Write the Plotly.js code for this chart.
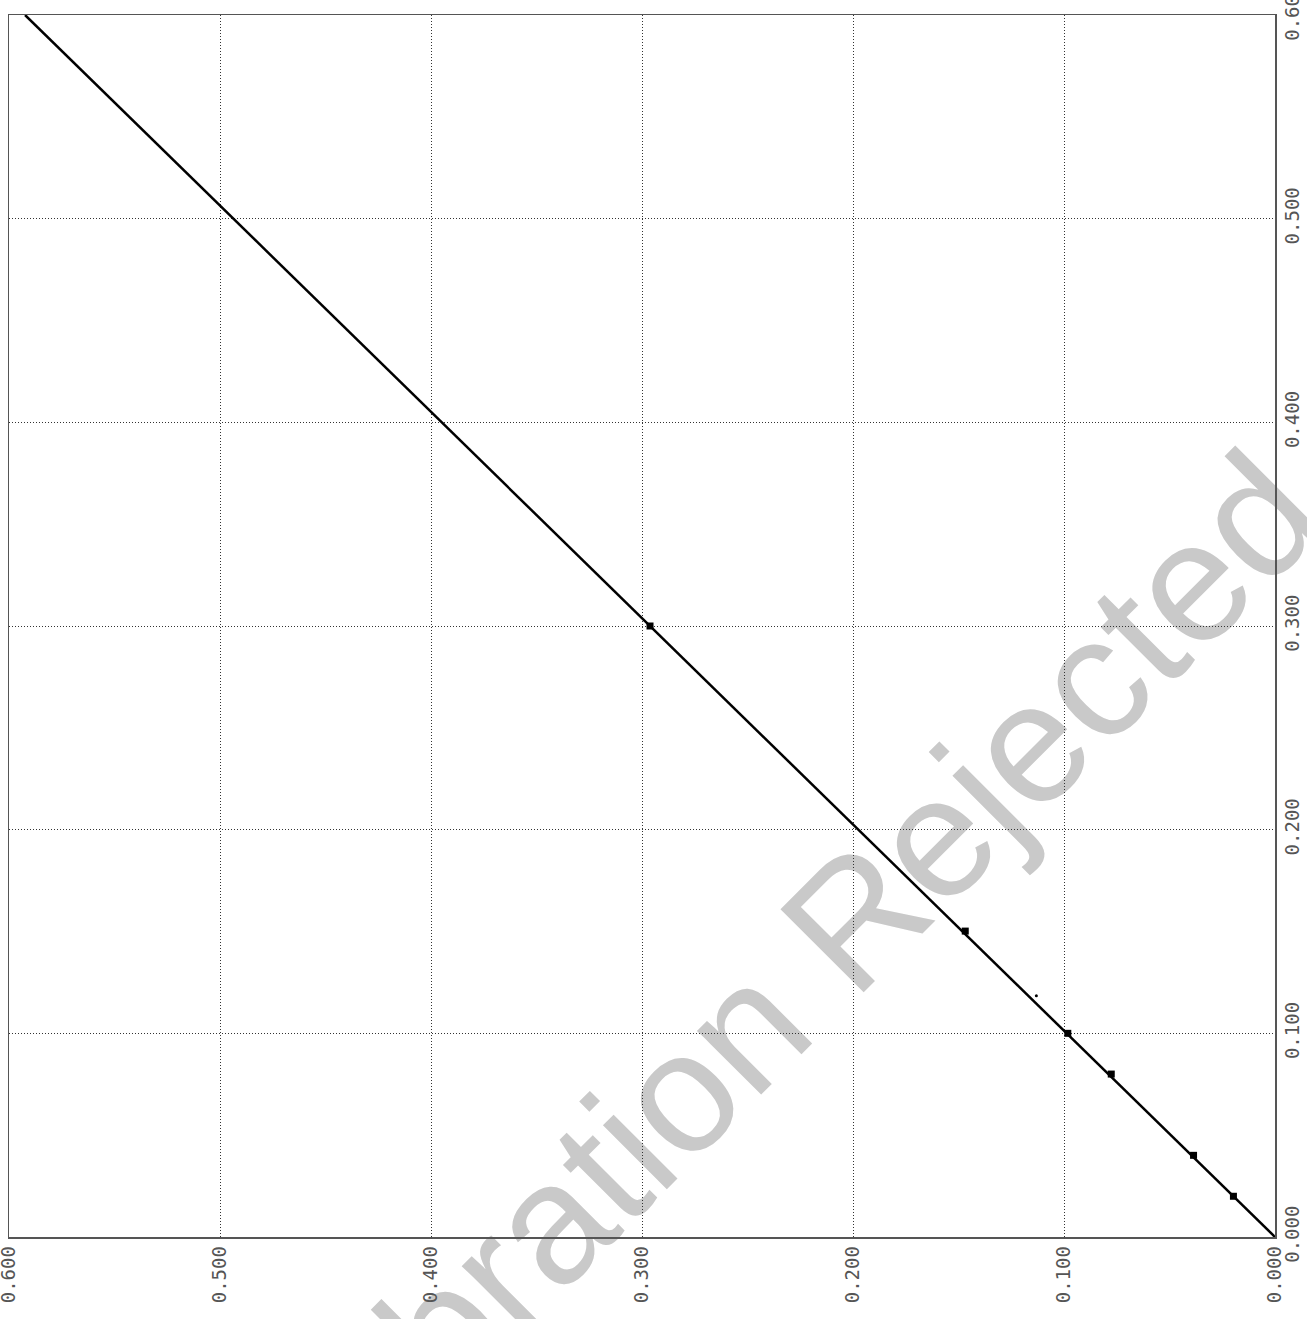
<!DOCTYPE html>
<html>
<head>
<meta charset="utf-8">
<script src="https://cdn.plot.ly/plotly-3.0.1.min.js"></script>
<style>
  html, body { margin: 0; padding: 0; background: #fff; }
  #calib { width: 1307px; height: 1319px; }
</style>
</head>
<body>
<div id="calib"></div>
<script>
var measX = [0.0197, 0.0386, 0.0776, 0.0982, 0.1468, 0.2962];
var nomY  = [0.0200, 0.0401, 0.0800, 0.1000, 0.1502, 0.3000];
// fitted line, ends of the visible segment
var fitX = [0, 0.5924];
var fitY = [0, 0.6];
// stray point just off the line
var strayX = [0.1131];
var strayY = [0.1185];
var tickVals = [0, 0.1, 0.2, 0.3, 0.4, 0.5, 0.6];
var tickText = ['0.000', '0.100', '0.200', '0.300', '0.400', '0.500', '0.600'];
var stamp = 'Calibration Rejected';

function drawCalib(){
  var fit = {
    x: fitX, y: fitY,
    mode: 'lines',
    line: { color: '#000', width: 2.5 },
    hoverinfo: 'skip'
  };
  var pts = {
    x: measX, y: nomY,
    mode: 'markers',
    marker: { symbol: 'square', size: 7, color: '#000' }
  };
  var stray = {
    x: strayX, y: strayY,
    mode: 'markers',
    marker: { size: 3, color: '#000' }
  };
  var tickFont = { family: 'DejaVu Sans Mono, monospace', size: 19, color: '#555' };
  var axisBase = {
    tickvals: tickVals,
    ticktext: tickText,
    tickangle: -90,
    tickfont: tickFont,
    ticklabeloverflow: 'allow',
    ticks: '',
    showgrid: true,
    gridcolor: '#333',
    griddash: '1px,2px',
    gridwidth: 1,
    zeroline: false,
    showline: true,
    mirror: true,
    linecolor: '#555',
    linewidth: 1.5
  };
  var layout = {
    width: 1307,
    height: 1319,
    showlegend: false,
    paper_bgcolor: '#fff',
    plot_bgcolor: '#fff',
    margin: { l: 9, r: 32, t: 15, b: 82 },
    xaxis: Object.assign({ range: [0.6, 0] }, axisBase),
    yaxis: Object.assign({ range: [0, 0.6], side: 'right' }, axisBase),
    shapes: [{
      // watermark, drawn under the grid and the data
      type: 'line',
      xref: 'paper', yref: 'paper',
      x0: 0.4044, y0: 0.0073, x1: 0.7395, y1: 0.3544,
      layer: 'below',
      line: { color: 'rgba(0,0,0,0)', width: 0 },
      label: {
        text: stamp,
        textangle: 'auto',
        textposition: 'middle',
        xanchor: 'center',
        yanchor: 'middle',
        font: { family: 'Liberation Sans, Arial, sans-serif', size: 171, color: '#c9c9c9' }
      }
    }]
  };
  Plotly.newPlot('calib', [fit, pts, stray], layout, { staticPlot: true });
}
drawCalib();
</script>
</body>
</html>
